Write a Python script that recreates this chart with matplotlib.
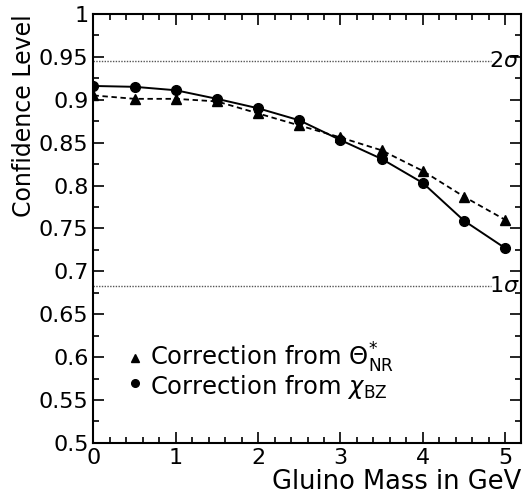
import matplotlib
matplotlib.use("Agg")
import matplotlib.pyplot as plt
from matplotlib.ticker import MultipleLocator

plt.rcParams['font.family'] = ['DejaVu Sans']
plt.rcParams['mathtext.fontset'] = 'dejavusans'

mass = [0, 0.5, 1, 1.5, 2, 2.5, 3, 3.5, 4, 4.5, 5]
cl_theta = [0.905, 0.901, 0.901, 0.898, 0.884, 0.870, 0.856, 0.841, 0.817, 0.787, 0.760]
cl_chi = [0.916, 0.915, 0.911, 0.901, 0.890, 0.876, 0.853, 0.831, 0.803, 0.759, 0.727]
sigma_levels = [0.945, 0.683]
sigma_labels = [r'2$\sigma$', r'1$\sigma$']
legend_labels = [r'Correction from $\Theta^{*}_{\rm NR}$', r'Correction from $\chi_{\rm BZ}$']

fig = plt.figure(figsize=(5.25, 4.96), dpi=100)
ax = fig.add_axes([0.178, 0.107, 0.814, 0.865])

for lv, lb in zip(sigma_levels, sigma_labels):
    ax.plot([0, 4.83], [lv, lv], color='#555555', lw=1.0, ls=(0, (1, 1)))
    ax.text(5.18, lv, lb, ha='right', va='center', fontsize=16)

ax.plot(mass, cl_theta, color='black', lw=1.3, ls=(0, (3, 2)), marker='^', ms=7)
ax.plot(mass, cl_chi, color='black', lw=1.4, ls='-', marker='o', ms=7)

ax.plot([0.5], [0.599], marker='^', color='black', ms=5.5, ls='none')
ax.plot([0.5], [0.570], marker='o', color='black', ms=5.5, ls='none')
ax.text(0.69, 0.5835, '\n'.join(legend_labels), fontsize=17.5, va='center', ha='left',
        linespacing=0.9)

ax.set_xlim(0, 5.19)
ax.set_ylim(0.5, 1.0)
ax.xaxis.set_minor_locator(MultipleLocator(0.2))
ax.yaxis.set_minor_locator(MultipleLocator(0.025))
ax.set_yticks([0.5, 0.55, 0.6, 0.65, 0.7, 0.75, 0.8, 0.85, 0.9, 0.95, 1.0])
ax.set_yticklabels(['0.5', '0.55', '0.6', '0.65', '0.7', '0.75', '0.8', '0.85', '0.9', '0.95', '1'])
ax.set_xticks([0, 1, 2, 3, 4, 5])
ax.set_xticklabels(['0', '1', '2', '3', '4', '5'])
ax.tick_params(which='both', direction='in', top=True, right=True, labelsize=16, width=1.2)
ax.tick_params(which='major', length=8)
ax.tick_params(which='minor', length=4)
for s in ax.spines.values():
    s.set_linewidth(1.5)

ax.set_ylabel('Confidence Level', fontsize=17, labelpad=2, loc='top')
ax.set_xlabel('Gluino Mass in GeV', fontsize=18.5, loc='right', labelpad=1)

fig.savefig('out.png', dpi=100)
